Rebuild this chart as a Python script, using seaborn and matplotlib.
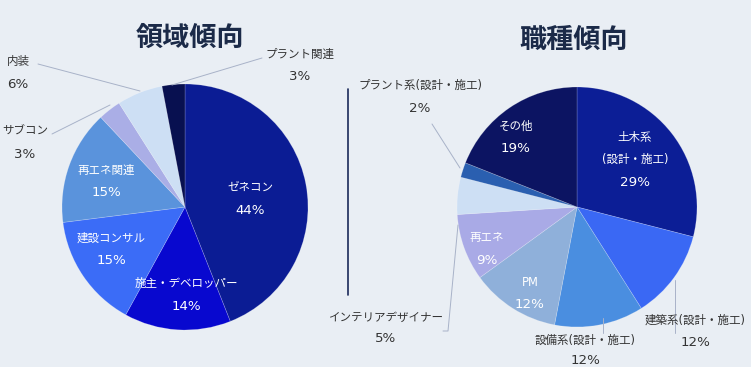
import matplotlib
matplotlib.use("Agg")
import matplotlib.pyplot as plt
import seaborn as sns

sns.set_theme(style="white")
plt.rcParams['font.family'] = ['DejaVu Sans', 'Noto Sans CJK JP']

# ---- data ----
left_title = "領域傾向"
left_labels = ["ゼネコン", "施主・デベロッパー", "建設コンサル", "再エネ関連", "サブコン", "内装", "プラント関連"]
left_values = [44, 14, 15, 15, 3, 6, 3]

right_title = "職種傾向"
right_labels = ["土木系\n(設計・施工)", "建築系(設計・施工)", "設備系(設計・施工)", "PM", "再エネ",
                "インテリアデザイナー", "プラント系(設計・施工)", "その他"]
right_values = [29, 12, 12, 12, 9, 5, 2, 19]

# ---- styles ----
BG = "#e9eef4"
left_colors = ["#0b1c94", "#0808cf", "#3b6cf7", "#5a93dc", "#aaaee6", "#cddff4", "#081050"]
right_colors = ["#0c1e96", "#3a68f4", "#4a8ee0", "#8fb0da", "#a9aae6", "#cddff4", "#2a5fb0", "#0c1462"]

# label positions in pixel coords (layout only): (x, y of category text, y of percent, inside)
left_layout = [
    (250, 187, 210, True), (186, 283, 306, True), (111, 238, 261, True), (106, 170, 193, True),
    (25, 131, 154, False), (18, 62, 85, False), (300, 54, 77, False)]
left_leaders = {4: [(52, 134), (110, 105)], 5: [(38, 64), (140, 91)], 6: [(262, 58), (172, 85)]}

right_layout = [
    (635, 148, 182, True), (695, 320, 342, False), (585, 340, 360, False), (530, 282, 305, True),
    (487, 237, 260, True), (386, 317, 339, False), (420, 85, 108, False), (516, 126, 149, True)]
right_leaders = {1: [(675, 333), (675, 280)], 2: [(603, 333), (603, 318)],
                 5: [(443, 331), (448, 331), (458, 225)], 6: [(432, 124), (460, 168)]}

W, H = 751, 367
fig = plt.figure(figsize=(W / 100, H / 100), dpi=100, facecolor=BG)


def make_pie(cx, cy, r, labels, values, colors, layout, leaders, title, title_xy):
    ax = fig.add_axes([(cx - r) / W, (H - cy - r) / H, 2 * r / W, 2 * r / H])
    ax.set_facecolor("none")
    ax.pie(values, colors=colors, startangle=90, counterclock=False, radius=1,
           wedgeprops=dict(edgecolor=(1, 1, 1, 0.25), linewidth=0.5))
    ax.set_xlim(-1, 1)
    ax.set_ylim(-1, 1)
    ax.set_aspect("equal")
    ax.axis("off")

    def d(px, py):
        return (px - cx) / r, (cy - py) / r

    for i, (lab, val) in enumerate(zip(labels, values)):
        px, py_lab, py_val, inside = layout[i]
        col = "white" if inside else "#333333"
        x, y = d(px, py_lab)
        ax.text(x, y, lab, ha="center", va="center", fontsize=8.3, linespacing=1.9,
                color=col, clip_on=False)
        x, y = d(px, py_val)
        ax.text(x, y, f"{val}%", ha="center", va="center", fontsize=9.6,
                color=col, clip_on=False)
    for i, pts in leaders.items():
        xs, ys = zip(*[d(px, py) for px, py in pts])
        ax.plot(xs, ys, color="#a8b2c8", lw=0.7, clip_on=False)
    fig.text(title_xy[0] / W, 1 - title_xy[1] / H, title, ha="center", va="center",
             fontsize=19.5, fontweight="bold", color="#1b2a48",
             family=['Noto Sans CJK JP'])


make_pie(185, 207, 123, left_labels, left_values, left_colors, left_layout, left_leaders,
         left_title, (190, 38))
make_pie(577, 207, 120, right_labels, right_values, right_colors, right_layout, right_leaders,
         right_title, (574, 40))

# vertical separator
fig.add_artist(plt.Line2D([348 / W, 348 / W], [1 - 89 / H, 1 - 295 / H], color="#1b2a5a", lw=1.2))

fig.savefig("out.png", dpi=100, facecolor=BG)
